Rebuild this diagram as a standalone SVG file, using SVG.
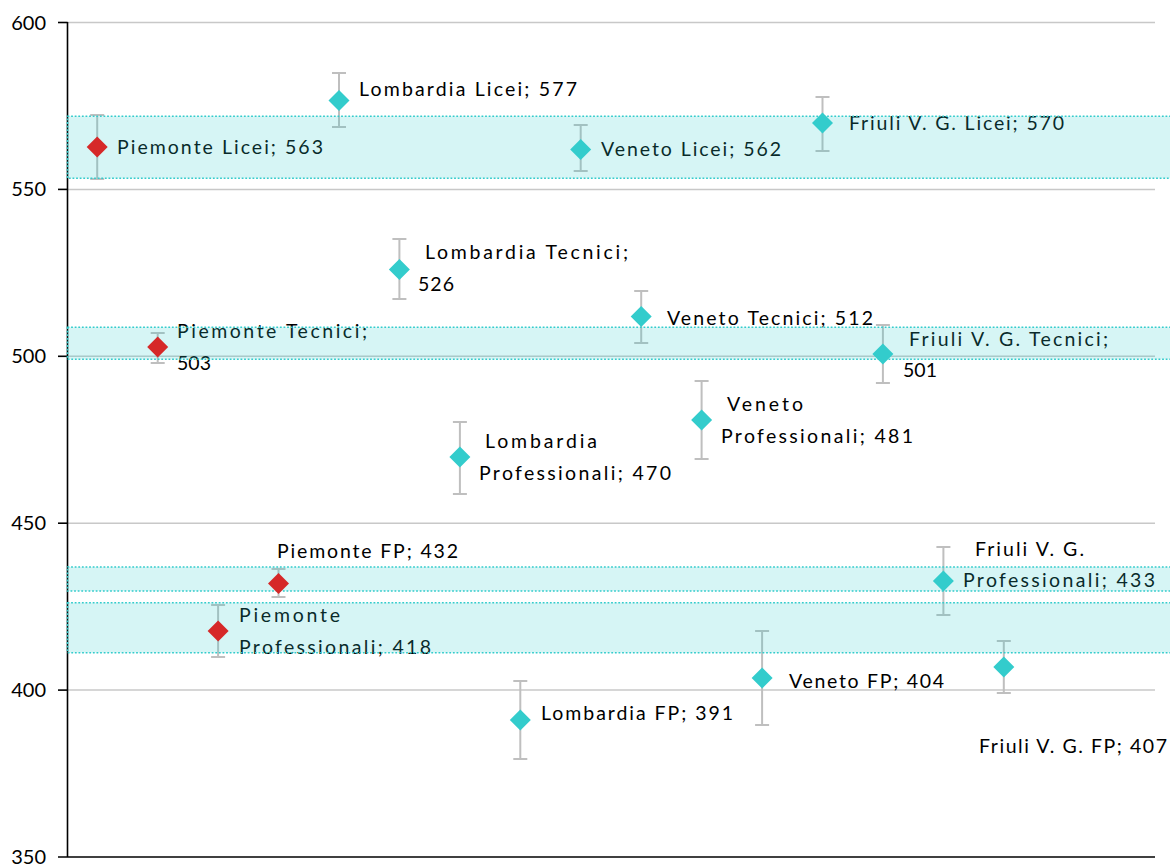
<svg xmlns="http://www.w3.org/2000/svg" width="1170" height="866" viewBox="0 0 1170 866">
<style>
.grid{stroke:#c8c8c8;stroke-width:1.5;fill:none}
.axis{stroke:#000;stroke-width:1.6;fill:none}
.ylab{font-family:Lato,"Liberation Sans",sans-serif;font-size:20px;fill:#000;text-anchor:end}
.lab{font-family:Lato,"Liberation Sans",sans-serif;font-size:19.5px;fill:#000}
.err{stroke:#bfbfbf;stroke-width:2;fill:none}
.band{fill:#33cccc;fill-opacity:0.2;stroke:#33cccc;stroke-width:1.6;stroke-dasharray:1.8 1.8}
.red{fill:#d62828}
.cyan{fill:#33cccc}
</style>
<defs>
<path id="dia" d="M0,-10.5 L10.5,0 L0,10.5 L-10.5,0 Z"/>
</defs>
<rect x="0" y="0" width="1170" height="866" fill="#fff"/>
<g id="gridlines">
<line class="grid" x1="67" y1="22.5" x2="1155" y2="22.5"/>
<line class="grid" x1="67" y1="189.4" x2="1155" y2="189.4"/>
<line class="grid" x1="67" y1="356.3" x2="1155" y2="356.3"/>
<line class="grid" x1="67" y1="523.2" x2="1155" y2="523.2"/>
<line class="grid" x1="67" y1="690.1" x2="1155" y2="690.1"/>
</g>
<g id="axes">
<line class="axis" x1="67.5" y1="22" x2="67.5" y2="857"/>
<line class="axis" x1="58" y1="857" x2="1155" y2="857"/>
<line class="axis" x1="58" y1="22.5" x2="67.5" y2="22.5"/>
<line class="axis" x1="58" y1="189.4" x2="67.5" y2="189.4"/>
<line class="axis" x1="58" y1="356.3" x2="67.5" y2="356.3"/>
<line class="axis" x1="58" y1="523.2" x2="67.5" y2="523.2"/>
<line class="axis" x1="58" y1="690.1" x2="67.5" y2="690.1"/>
<text class="ylab" x="46" y="29.5">600</text>
<text class="ylab" x="46" y="196.4">550</text>
<text class="ylab" x="46" y="363.3">500</text>
<text class="ylab" x="46" y="530.2">450</text>
<text class="ylab" x="46" y="697.1">400</text>
<text class="ylab" x="46" y="864">350</text>
</g>
<g id="connectors">
<path class="err" d="M97.2,115V179M90.2,115H104.2M90.2,179H104.2"/>
<path class="err" d="M157.7,333V363M150.7,333H164.7M150.7,363H164.7"/>
<path class="err" d="M218.1,605V657M211.1,605H225.1M211.1,657H225.1"/>
<path class="err" d="M278.5,569V597M271.5,569H285.5M271.5,597H285.5"/>
<path class="err" d="M339,73V127M332,73H346M332,127H346"/>
<path class="err" d="M399.4,239V299M392.4,239H406.4M392.4,299H406.4"/>
<path class="err" d="M459.9,422V494M452.9,422H466.9M452.9,494H466.9"/>
<path class="err" d="M520.3,681V759M513.3,681H527.3M513.3,759H527.3"/>
<path class="err" d="M580.7,125V171M573.7,125H587.7M573.7,171H587.7"/>
<path class="err" d="M641.2,291V343M634.2,291H648.2M634.2,343H648.2"/>
<path class="err" d="M701.6,381V459M694.6,381H708.6M694.6,459H708.6"/>
<path class="err" d="M762.1,631V725M755.1,631H769.1M755.1,725H769.1"/>
<path class="err" d="M822.5,97V151M815.5,97H829.5M815.5,151H829.5"/>
<path class="err" d="M882.9,325V383M875.9,325H889.9M875.9,383H889.9"/>
<path class="err" d="M943.4,547V615M936.4,547H950.4M936.4,615H950.4"/>
<path class="err" d="M1003.8,641V693M996.8,641H1010.8M996.8,693H1010.8"/>
</g>
<g id="labels">
<text class="lab" x="117" y="154" textLength="206" lengthAdjust="spacing">Piemonte Licei; 563</text>
<text class="lab" x="359" y="96" textLength="218" lengthAdjust="spacing">Lombardia Licei; 577</text>
<text class="lab" x="601" y="156" textLength="180" lengthAdjust="spacing">Veneto Licei; 562</text>
<text class="lab" x="849" y="130" textLength="215" lengthAdjust="spacing">Friuli V. G. Licei; 570</text>
<text class="lab" x="425" y="259" textLength="203" lengthAdjust="spacing">Lombardia Tecnici;</text>
<text class="lab" x="418" y="291" textLength="36" lengthAdjust="spacing">526</text>
<text class="lab" x="177" y="338" textLength="190" lengthAdjust="spacing">Piemonte Tecnici;</text>
<text class="lab" x="177" y="370" textLength="34" lengthAdjust="spacing">503</text>
<text class="lab" x="667" y="325" textLength="206" lengthAdjust="spacing">Veneto Tecnici; 512</text>
<text class="lab" x="909" y="346" textLength="199" lengthAdjust="spacing">Friuli V. G. Tecnici;</text>
<text class="lab" x="903" y="377" textLength="34" lengthAdjust="spacing">501</text>
<text class="lab" x="727" y="411" textLength="76" lengthAdjust="spacing">Veneto</text>
<text class="lab" x="721" y="443" textLength="192" lengthAdjust="spacing">Professionali; 481</text>
<text class="lab" x="485" y="448" textLength="112" lengthAdjust="spacing">Lombardia</text>
<text class="lab" x="479" y="480" textLength="192" lengthAdjust="spacing">Professionali; 470</text>
<text class="lab" x="277" y="558" textLength="181" lengthAdjust="spacing">Piemonte FP; 432</text>
<text class="lab" x="239" y="622" textLength="101" lengthAdjust="spacing">Piemonte</text>
<text class="lab" x="239" y="654" textLength="192" lengthAdjust="spacing">Professionali; 418</text>
<text class="lab" x="975" y="556" textLength="109" lengthAdjust="spacing">Friuli V. G.</text>
<text class="lab" x="963" y="587" textLength="192" lengthAdjust="spacing">Professionali; 433</text>
<text class="lab" x="541" y="720" textLength="192" lengthAdjust="spacing">Lombardia FP; 391</text>
<text class="lab" x="789" y="688" textLength="155" lengthAdjust="spacing">Veneto FP; 404</text>
<text class="lab" x="979" y="753" textLength="188" lengthAdjust="spacing">Friuli V. G. FP; 407</text>
</g>
<g id="bands">
<rect class="band" x="67.5" y="116.3" width="1110" height="62"/>
<rect class="band" x="67.5" y="327.3" width="1110" height="32"/>
<rect class="band" x="67.5" y="567" width="1110" height="24"/>
<rect class="band" x="67.5" y="602.7" width="1110" height="50"/>
</g>
<g id="piemonte-licei"><use href="#dia" class="red" x="97.2" y="147"/></g>
<g id="piemonte-tecnici"><use href="#dia" class="red" x="157.7" y="347"/></g>
<g id="piemonte-professionali"><use href="#dia" class="red" x="218.1" y="631"/></g>
<g id="piemonte-fp"><use href="#dia" class="red" x="278.5" y="583.5"/></g>
<g id="lombardia-licei"><use href="#dia" class="cyan" x="339" y="100.5"/></g>
<g id="lombardia-tecnici"><use href="#dia" class="cyan" x="399.4" y="269.5"/></g>
<g id="lombardia-professionali"><use href="#dia" class="cyan" x="459.9" y="457"/></g>
<g id="lombardia-fp"><use href="#dia" class="cyan" x="520.3" y="720"/></g>
<g id="veneto-licei"><use href="#dia" class="cyan" x="580.7" y="149.5"/></g>
<g id="veneto-tecnici"><use href="#dia" class="cyan" x="641.2" y="316.5"/></g>
<g id="veneto-professionali"><use href="#dia" class="cyan" x="701.6" y="420"/></g>
<g id="veneto-fp"><use href="#dia" class="cyan" x="762.1" y="678"/></g>
<g id="friuli-licei"><use href="#dia" class="cyan" x="822.5" y="123"/></g>
<g id="friuli-tecnici"><use href="#dia" class="cyan" x="882.9" y="354"/></g>
<g id="friuli-professionali"><use href="#dia" class="cyan" x="943.4" y="581"/></g>
<g id="friuli-fp"><use href="#dia" class="cyan" x="1003.8" y="667"/></g>
</svg>
